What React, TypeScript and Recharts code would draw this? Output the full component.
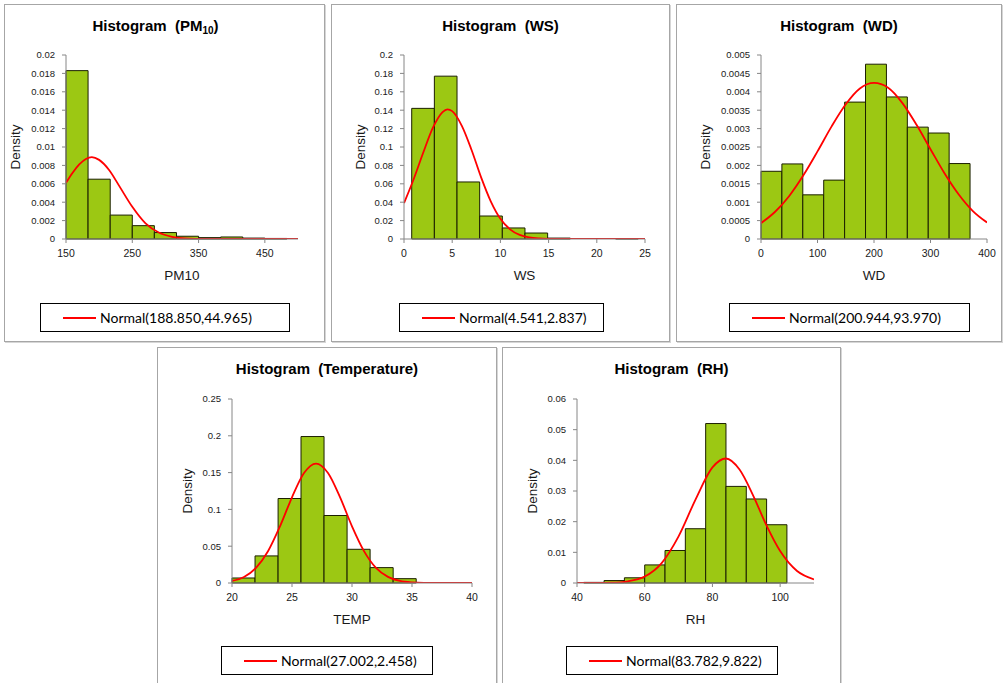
import React from 'react';
import { ComposedChart, Line, XAxis, YAxis, ReferenceArea } from 'recharts';

// PM10
const pmEdges = [150, 183.3, 216.7, 250, 283.3, 316.7, 350, 383.3, 416.7, 450, 483.3];
const pmDensity = [0.0183, 0.0065, 0.0026, 0.00145, 0.0007, 0.0003, 0.00015, 0.00022, 0.0001, 0.00006];
const pmCurveX = [150, 160, 170, 180, 189, 200, 215, 230, 250, 270, 290, 310, 330, 360, 400, 500];
const pmCurveY = [0.0061, 0.0072, 0.0081, 0.0087, 0.0089, 0.0086, 0.0075, 0.0058, 0.0035, 0.0017, 0.0007, 0.00024, 0.00006, 0, 0, 0];
const pmXTicks = [150, 250, 350, 450];
const pmYTicks = [0, 0.002, 0.004, 0.006, 0.008, 0.01, 0.012, 0.014, 0.016, 0.018, 0.02];

// WS
const wsEdges = [0.8, 3.15, 5.5, 7.85, 10.2, 12.55, 14.9, 17.25, 19.6, 21.95, 24.3];
const wsDensity = [0.142, 0.177, 0.062, 0.025, 0.012, 0.0065, 0.001, 0, 0, 0.0005];
const wsCurveX = [0, 1, 2, 3, 4, 4.5, 5, 6, 7, 8, 9, 10, 11, 12, 13, 14, 15, 17, 20, 25];
const wsCurveY = [0.039, 0.065, 0.094, 0.121, 0.138, 0.141, 0.139, 0.123, 0.097, 0.067, 0.041, 0.022, 0.0105, 0.0044, 0.0017, 0.0006, 0.0002, 0, 0, 0];
const wsXTicks = [0, 5, 10, 15, 20, 25];
const wsYTicks = [0, 0.02, 0.04, 0.06, 0.08, 0.1, 0.12, 0.14, 0.16, 0.18, 0.2];

// WD
const wdEdges = [0, 37, 74, 111, 148, 185, 222, 259, 296, 333, 370];
const wdDensity = [0.00184, 0.00204, 0.0012, 0.0016, 0.00372, 0.00475, 0.00386, 0.00304, 0.00288, 0.00205];
const wdCurveX = [0, 25, 50, 75, 100, 125, 150, 175, 200, 225, 250, 275, 300, 325, 350, 375, 400];
const wdCurveY = [0.00043, 0.00074, 0.00117, 0.00173, 0.00238, 0.00306, 0.00366, 0.00409, 0.00424, 0.00411, 0.0037, 0.00311, 0.00244, 0.00178, 0.00121, 0.00076, 0.00045];
const wdXTicks = [0, 100, 200, 300, 400];
const wdYTicks = [0, 0.0005, 0.001, 0.0015, 0.002, 0.0025, 0.003, 0.0035, 0.004, 0.0045, 0.005];

// Temperature
const tEdges = [20, 21.92, 23.84, 25.75, 27.67, 29.59, 31.51, 33.43, 35.35];
const tDensity = [0.0068, 0.0368, 0.1148, 0.199, 0.0917, 0.0458, 0.0209, 0.0059];
const tCurveX = [20, 21, 22, 23, 24, 25, 26, 27, 28, 29, 30, 31, 32, 33, 34, 35, 36, 38, 40];
const tCurveY = [0.0028, 0.0082, 0.0205, 0.0431, 0.077, 0.1165, 0.1494, 0.1623, 0.1495, 0.1167, 0.077, 0.0433, 0.0205, 0.0083, 0.0028, 0.0008, 0.0002, 0, 0];
const tXTicks = [20, 25, 30, 35, 40];
const tYTicks = [0, 0.05, 0.1, 0.15, 0.2, 0.25];

// RH
const rhEdges = [42, 48, 54, 60, 66, 72, 78, 84, 90, 96, 102];
const rhDensity = [0.0002, 0.0008, 0.0017, 0.0059, 0.0106, 0.0177, 0.052, 0.0315, 0.0274, 0.019];
const rhCurveX = [40, 45, 50, 55, 60, 65, 70, 75, 80, 84, 88, 92, 96, 100, 105, 110];
const rhCurveY = [0, 0.00002, 0.0001, 0.00055, 0.0021, 0.0065, 0.0152, 0.0272, 0.0377, 0.0406, 0.037, 0.0286, 0.0187, 0.0104, 0.0039, 0.0012];
const rhXTicks = [40, 60, 80, 100];
const rhYTicks = [0, 0.01, 0.02, 0.03, 0.04, 0.05, 0.06];

const AXIS = '#868686';
const FRAME = '#d9d9d9';
const TXT = '#1a1a1a';
const FONT = 'Arial, "Liberation Sans", sans-serif';

type PanelProps = {
  title: React.ReactNode;
  xLabel: string;
  legend: string;
  edges: number[];
  density: number[];
  curveX: number[];
  curveY: number[];
  xTicks: number[];
  yTicks: number[];
  xDomain: [number, number];
  box: { left: number; top: number; width: number; height: number };
  plot: { left: number; top: number; right: number };
  yLabelX: number;
  titleShift?: number;
  legendBox: { left: number; width: number };
};

function HistogramPanel(p: PanelProps) {
  const chartW = p.box.width - 2;
  const chartH = 290;
  const data = p.curveX.map((x, i) => ({ x, y: p.curveY[i] }));
  const yDomain: [number, number] = [0, p.yTicks[p.yTicks.length - 1]];
  return (
    <div
      style={{
        position: 'absolute',
        left: p.box.left,
        top: p.box.top,
        width: p.box.width,
        height: p.box.height,
        boxSizing: 'border-box',
        border: '1px solid #a6a6a6',
        boxShadow: '1px 1px 0 #d6d6d6',
        background: '#fff',
      }}
    >
      <div
        style={{
          position: 'absolute',
          left: p.titleShift || 0,
          top: 13,
          width: chartW,
          textAlign: 'center',
          fontFamily: FONT,
          fontWeight: 'bold',
          fontSize: 15,
          lineHeight: '16px',
          whiteSpace: 'pre',
          color: '#000',
        }}
      >
        {p.title}
      </div>
      <div style={{ position: 'absolute', left: 0, top: 0 }}>
        <ComposedChart
          width={chartW}
          height={chartH}
          data={data}
          margin={{ top: p.plot.top, right: chartW - p.plot.right, bottom: chartH - p.plot.top - 184 - 41, left: 0 }}
        >
          <XAxis
            dataKey="x"
            type="number"
            domain={p.xDomain}
            ticks={p.xTicks}
            interval={0}
            allowDataOverflow
            tickSize={4}
            tickMargin={7}
            height={41}
            axisLine={{ stroke: AXIS }}
            tickLine={{ stroke: AXIS }}
            tick={{ fill: TXT, fontSize: 10.5, fontFamily: FONT }}
            label={{ value: p.xLabel, position: 'insideBottom', offset: 0, fill: TXT, fontSize: 13.5, fontFamily: FONT }}
          />
          <YAxis
            type="number"
            domain={yDomain}
            ticks={p.yTicks}
            interval={0}
            allowDataOverflow
            width={p.plot.left}
            tickSize={4}
            tickMargin={7}
            axisLine={{ stroke: AXIS }}
            tickLine={{ stroke: AXIS }}
            tick={{ fill: TXT, fontSize: 9.5, fontFamily: FONT }}
            label={{
              value: 'Density',
              angle: -90,
              position: 'insideLeft',
              offset: p.yLabelX,
              fill: TXT,
              fontSize: 13.5,
              fontFamily: FONT,
              style: { textAnchor: 'middle' },
            }}
          />
          <XAxis xAxisId="top" orientation="top" type="number" domain={p.xDomain} ticks={[]} tick={false} tickLine={false} height={0} axisLine={{ stroke: FRAME }} />
          <YAxis yAxisId="right" orientation="right" type="number" domain={yDomain} ticks={[]} tick={false} tickLine={false} width={0} axisLine={{ stroke: FRAME }} />
          {p.density.map((d, i) => (
            <ReferenceArea
              key={`bin-${i}`}
              x1={p.edges[i]}
              x2={p.edges[i + 1]}
              y1={0}
              y2={d}
              fill="#9cc813"
              fillOpacity={1}
              stroke="#1b1f00"
              strokeWidth={1}
              ifOverflow="visible"
            />
          ))}
          <Line
            dataKey="y"
            type="monotone"
            stroke="#ff0000"
            strokeWidth={1.8}
            dot={false}
            activeDot={false}
            isAnimationActive={false}
          />
        </ComposedChart>
      </div>
      <div
        style={{
          position: 'absolute',
          left: p.legendBox.left,
          top: 298,
          width: p.legendBox.width,
          height: 29,
          boxSizing: 'border-box',
          border: '1px solid #000',
          display: 'flex',
          alignItems: 'center',
          fontFamily: 'Lato, sans-serif',
          fontSize: 14,
          color: '#000',
        }}
      >
        <div style={{ marginLeft: 22, width: 33, height: 2, background: '#ff0000', marginRight: 4 }} />
        <span>{p.legend}</span>
      </div>
    </div>
  );
}

export default function App() {
  return (
    <div style={{ position: 'absolute', left: 0, top: 0, width: 1004, height: 683, background: '#fff', overflow: 'hidden' }}>
      <HistogramPanel
        title={<>Histogram  (PM<span style={{ fontSize: 10, position: 'relative', top: 3 }}>10</span>)</>}
        xLabel="PM10"
        legend="Normal(188.850,44.965)"
        edges={pmEdges}
        density={pmDensity}
        curveX={pmCurveX}
        curveY={pmCurveY}
        xTicks={pmXTicks}
        yTicks={pmYTicks}
        xDomain={[150, 500]}
        box={{ left: 4, top: 4, width: 321, height: 338 }}
        plot={{ left: 61, top: 50, right: 293 }}
        yLabelX={10}
        titleShift={-9}
        legendBox={{ left: 35, width: 250 }}
      />
      <HistogramPanel
        title="Histogram  (WS)"
        xLabel="WS"
        legend="Normal(4.541,2.837)"
        edges={wsEdges}
        density={wsDensity}
        curveX={wsCurveX}
        curveY={wsCurveY}
        xTicks={wsXTicks}
        yTicks={wsYTicks}
        xDomain={[0, 25]}
        box={{ left: 331, top: 4, width: 339, height: 338 }}
        plot={{ left: 72, top: 50, right: 313 }}
        yLabelX={28}
        legendBox={{ left: 67, width: 205 }}
      />
      <HistogramPanel
        title="Histogram  (WD)"
        xLabel="WD"
        legend="Normal(200.944,93.970)"
        edges={wdEdges}
        density={wdDensity}
        curveX={wdCurveX}
        curveY={wdCurveY}
        xTicks={wdXTicks}
        yTicks={wdYTicks}
        xDomain={[0, 400]}
        box={{ left: 676, top: 4, width: 326, height: 338 }}
        plot={{ left: 84, top: 50, right: 310 }}
        yLabelX={28}
        legendBox={{ left: 52, width: 241 }}
      />
      <HistogramPanel
        title="Histogram  (Temperature)"
        xLabel="TEMP"
        legend="Normal(27.002,2.458)"
        edges={tEdges}
        density={tDensity}
        curveX={tCurveX}
        curveY={tCurveY}
        xTicks={tXTicks}
        yTicks={tYTicks}
        xDomain={[20, 40]}
        box={{ left: 157, top: 347, width: 340, height: 338 }}
        plot={{ left: 74, top: 51, right: 314 }}
        yLabelX={29}
        legendBox={{ left: 63, width: 212 }}
      />
      <HistogramPanel
        title="Histogram  (RH)"
        xLabel="RH"
        legend="Normal(83.782,9.822)"
        edges={rhEdges}
        density={rhDensity}
        curveX={rhCurveX}
        curveY={rhCurveY}
        xTicks={rhXTicks}
        yTicks={rhYTicks}
        xDomain={[40, 110]}
        box={{ left: 502, top: 347, width: 339, height: 338 }}
        plot={{ left: 74, top: 51, right: 311 }}
        yLabelX={29}
        legendBox={{ left: 63, width: 212 }}
      />
    </div>
  );
}
